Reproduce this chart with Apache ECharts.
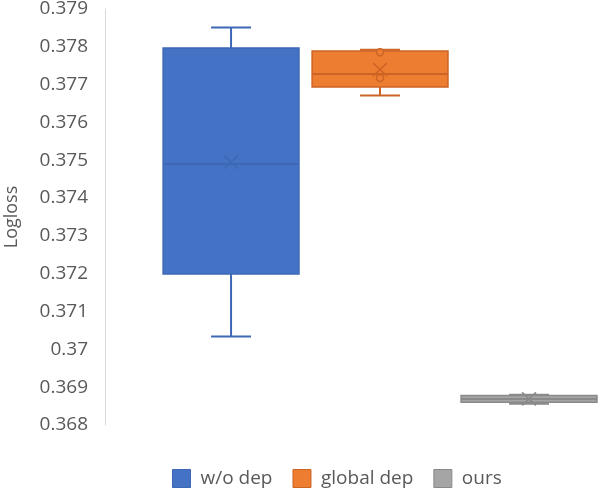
<!DOCTYPE html>
<html>
<head>
<meta charset="utf-8">
<script src="https://cdn.jsdelivr.net/npm/echarts@6/dist/echarts.min.js"></script>
<style>
  html, body { margin: 0; padding: 0; background: #fff; }
  #chart { width: 598px; height: 500px; }
</style>
</head>
<body>
<div id="chart"></div>
<script>
// values
var categories = ['w/o dep', 'global dep', 'ours']
// [min, q1, median, q3, max]
var woDep = [0.37034, 0.37199, 0.37490, 0.37797, 0.37851]
var globalDep = [0.37671, 0.37694, 0.37728, 0.37789, 0.37792]
var ours = [0.36856, 0.36860, 0.36869, 0.36878, 0.36880]
var means = [0.37495, 0.37740, 0.36869]
var globalDepPoints = [0.377855, 0.377175]
var yMin = 0.368
var yMax = 0.379
var yStep = 0.001

var fillColors = ['#4472c4', '#ed7d31', '#a5a5a5']
var lineColors = ['#3e68b6', '#cc6426', '#8a8a8a']
var font = 'Open Sans'

// boxes sit at x = 0, 1, 2; the axis leaves room on the left like excel does
function renderBox(params, api) {
  var x = api.value(0)
  var band = api.size([1, 0])[0]
  var c = function (d) { return api.coord([x, api.value(d)]) }
  var pMin = c(1)
  var pQ1 = c(2)
  var pMed = c(3)
  var pQ3 = c(4)
  var pMax = c(5)
  var pMean = c(6)
  var cx = pMed[0]
  var half = band * 0.456
  var cap = band * 0.134
  var fill = fillColors[params.seriesIndex]
  var line = lineColors[params.seriesIndex]
  var ls = { stroke: line, lineWidth: 2 }
  var xs = { stroke: line, lineWidth: 1.6 }
  return {
    type: 'group',
    children: [
      { type: 'line', shape: { x1: cx, y1: pMax[1], x2: cx, y2: pQ3[1] }, style: ls },
      { type: 'line', shape: { x1: cx, y1: pQ1[1], x2: cx, y2: pMin[1] }, style: ls },
      { type: 'line', shape: { x1: cx - cap, y1: pMax[1], x2: cx + cap, y2: pMax[1] }, style: ls },
      { type: 'line', shape: { x1: cx - cap, y1: pMin[1], x2: cx + cap, y2: pMin[1] }, style: ls },
      {
        type: 'rect',
        shape: { x: cx - half, y: pQ3[1], width: half * 2, height: pQ1[1] - pQ3[1] },
        style: { fill: fill, stroke: line, lineWidth: 1.5 }
      },
      { type: 'line', shape: { x1: cx - half, y1: pMed[1], x2: cx + half, y2: pMed[1] }, style: ls },
      { type: 'line', shape: { x1: cx - 7, y1: pMean[1] - 6.5, x2: cx + 7, y2: pMean[1] + 6.5 }, style: xs },
      { type: 'line', shape: { x1: cx + 7, y1: pMean[1] - 6.5, x2: cx - 7, y2: pMean[1] + 6.5 }, style: xs }
    ]
  }
}

function boxSeries(i, vals) {
  return {
    name: categories[i],
    type: 'custom',
    renderItem: renderBox,
    itemStyle: { color: fillColors[i] },
    encode: { x: 0, y: [1, 2, 3, 4, 5, 6] },
    data: [[i].concat(vals, [means[i]])]
  }
}

var chart = echarts.init(document.getElementById('chart'))
chart.setOption({
  animation: false,
  backgroundColor: '#fff',
  grid: { left: 105, top: 9, right: 0, bottom: 75, outerBoundsMode: 'none' },
  legend: {
    left: 172,
    top: 469,
    padding: 0,
    icon: 'rect',
    itemWidth: 18,
    itemHeight: 18,
    itemGap: 20,
    textStyle: { fontFamily: font, fontSize: 19, color: '#595959', padding: [0, 0, 0, 5] },
    data: categories.map(function (n, i) {
      return { name: n, itemStyle: { color: fillColors[i], borderColor: lineColors[i], borderWidth: 1 } }
    })
  },
  xAxis: {
    type: 'value',
    min: -0.846,
    max: 2.463,
    show: false
  },
  yAxis: {
    type: 'value',
    min: yMin,
    max: yMax,
    interval: yStep,
    name: 'Logloss',
    nameLocation: 'middle',
    nameGap: 84,
    nameTextStyle: { fontFamily: font, fontSize: 18, color: '#595959' },
    axisLine: { show: true, onZero: false, lineStyle: { color: '#d9d9d9', width: 1 } },
    axisTick: { show: false },
    splitLine: { show: false },
    axisLabel: {
      margin: 17,
      fontFamily: font,
      fontSize: 19,
      color: '#595959',
      formatter: function (v) { return String(+v.toFixed(3)) }
    }
  },
  series: [
    boxSeries(0, woDep),
    boxSeries(1, globalDep),
    boxSeries(2, ours),
    {
      name: 'points',
      type: 'scatter',
      symbol: 'circle',
      symbolSize: 7,
      z: 5,
      itemStyle: { color: fillColors[1], borderColor: lineColors[1], borderWidth: 1.5, opacity: 1 },
      data: globalDepPoints.map(function (v) { return [1, v] })
    }
  ]
})
</script>
</body>
</html>
